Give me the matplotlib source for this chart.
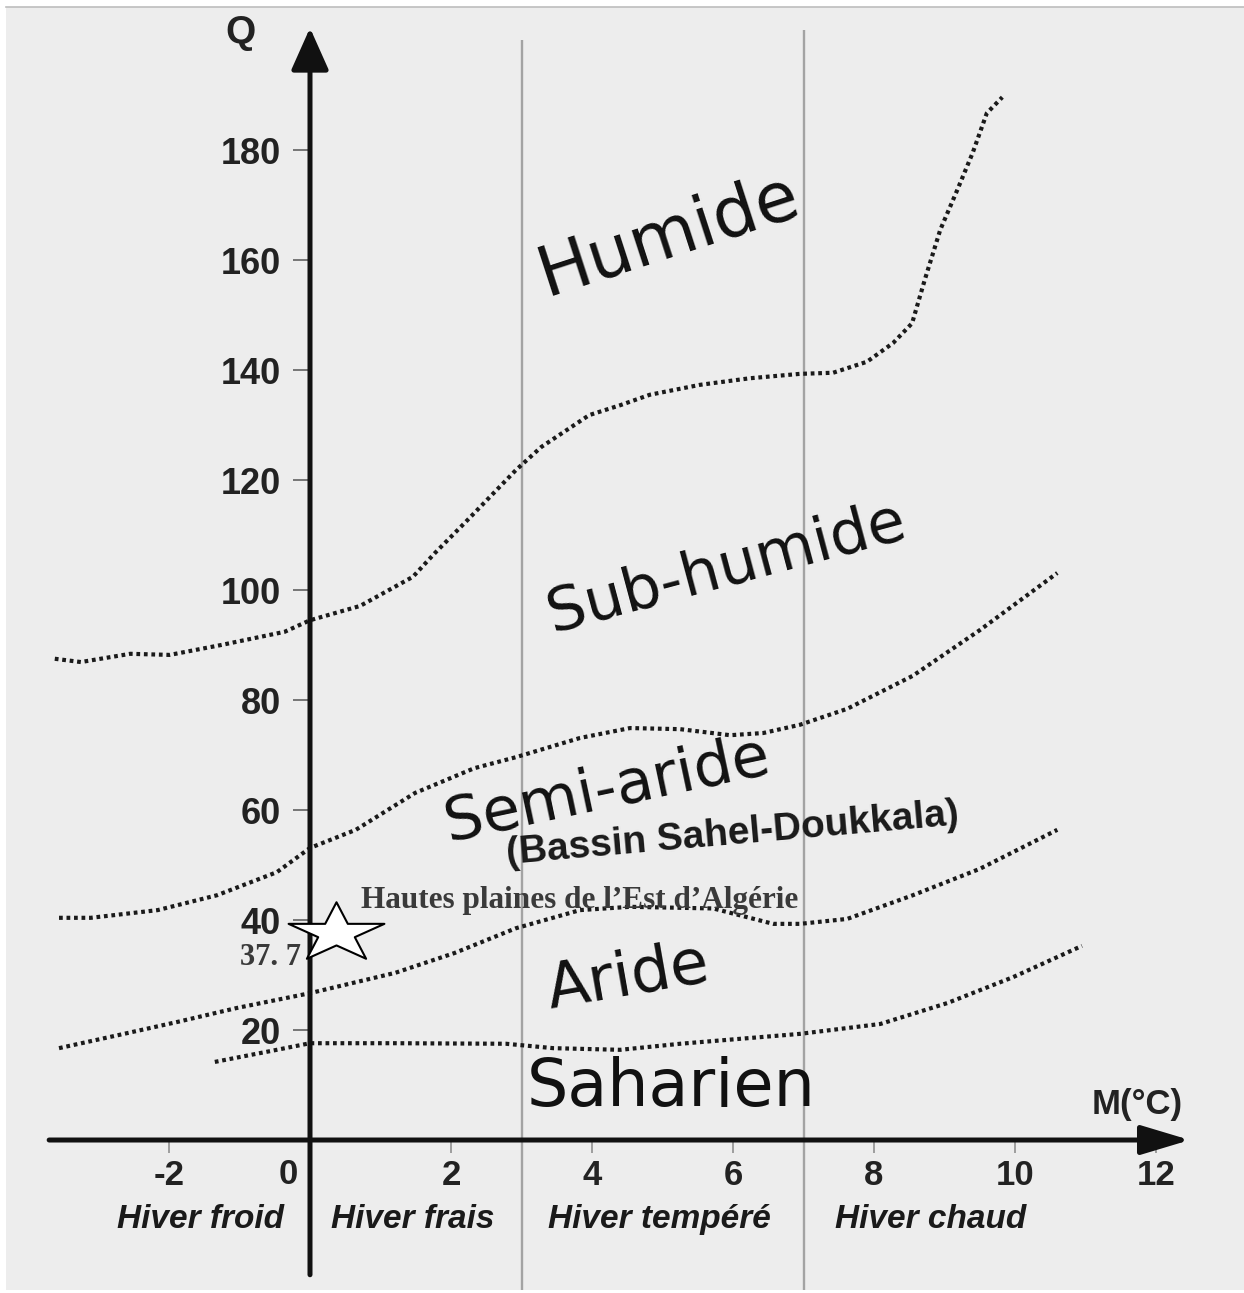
import numpy as np
import matplotlib
matplotlib.use('Agg')
import matplotlib.pyplot as plt
from matplotlib.path import Path

# Emberger climagram: Q (pluviothermic quotient) vs M (min temp of coldest month)

X_TICKS = [-2, 0, 2, 4, 6, 8, 10, 12]
Y_TICKS = [20, 40, 60, 80, 100, 120, 140, 160, 180]
WINTER_BOUNDS = [3, 7]
WINTER_LABELS = ["Hiver froid", "Hiver frais", "Hiver tempéré", "Hiver chaud"]
ZONE_LABELS = ["Humide", "Sub-humide", "Semi-aride", "Aride", "Saharien"]
SUBZONE_LABEL = "(Bassin Sahel-Doukkala)"

# zone boundaries (M in °C, Q)
HUMIDE_M = [-3.62, -3.25, -2.55, -1.99, -1.26, -0.36, 0.0, 0.71, 1.46, 1.77,
            2.21, 2.92, 3.28, 3.96, 4.40, 4.82, 5.53, 6.24, 6.95, 7.42,
            7.90, 8.27, 8.54, 8.72, 8.94, 9.18, 9.40, 9.60, 9.82]
HUMIDE_Q = [87.5, 86.9, 88.4, 88.2, 90.0, 92.4, 94.5, 97.1, 102.4, 106.7,
            112.4, 121.8, 126.0, 131.8, 133.6, 135.5, 137.3, 138.5, 139.3, 139.5,
            141.5, 144.9, 148.5, 156.4, 165.5, 172.7, 179.5, 186.7, 189.6]

SUBHUM_M = [-3.56, -3.11, -2.16, -1.32, -0.47, 0.0, 0.65, 1.49, 2.33, 2.92,
            3.83, 4.54, 5.25, 5.96, 6.43, 6.95, 7.62, 8.55, 9.50, 10.60]
SUBHUM_Q = [40.4, 40.4, 41.8, 44.5, 48.7, 53.1, 56.4, 63.1, 67.6, 69.6,
            73.1, 74.9, 74.7, 73.6, 74.0, 75.5, 78.4, 84.4, 92.7, 103.1]

SEMI_M = [-3.56, -2.71, -1.87, -1.04, 0.0, 1.21, 2.05, 2.92, 3.83, 4.54,
          5.72, 6.57, 6.95, 7.62, 8.55, 9.50, 10.60]
SEMI_Q = [16.7, 19.1, 21.5, 24.0, 26.7, 30.4, 34.0, 38.5, 41.8, 42.4,
          42.1, 39.3, 39.3, 40.2, 44.5, 49.3, 56.4]

ARIDE_M = [-1.35, -0.47, 0.0, 1.21, 2.78, 3.45, 4.40, 5.25, 6.95, 8.09,
           9.04, 9.97, 10.95]
ARIDE_Q = [14.2, 16.4, 17.6, 17.6, 17.5, 16.7, 16.4, 17.5, 19.3, 21.1,
           24.9, 29.6, 35.3]

STATION_NAME = "Hautes plaines de l’Est d’Algérie"
STATION_LABEL = "37. 7"
STATION_M = 0.37
STATION_Q = 37.7

BG = '#ededed'
INK = '#1a1a1a'
SANS = 'Liberation Sans'
SERIF = 'Liberation Serif'

plt.rcParams['font.family'] = SANS

fig = plt.figure(figsize=(12.44, 12.93), dpi=100)
fig.patch.set_facecolor('white')
ax = fig.add_axes([6 / 1244, 3 / 1293, 1238 / 1244, 1283 / 1293])
ax.set_facecolor(BG)
ax.set_xlim(-4.312, 13.248)
ax.set_ylim(-27.27, 206.0)

for side in ['left', 'right', 'bottom']:
    ax.spines[side].set_visible(False)
ax.spines['top'].set_color('#bdbdbd')
ax.spines['top'].set_linewidth(1.2)
ax.spines['left'].set_position(('data', 0))
ax.spines['bottom'].set_position(('data', 0))

# ticks on the zero lines
ax.set_xticks(X_TICKS, labels=[('' if t == 0 else str(t)) for t in X_TICKS],
              fontweight='bold', fontsize=25, color='#222222')
ax.set_yticks(Y_TICKS, labels=[str(t) for t in Y_TICKS],
              fontweight='bold', fontsize=26, color='#222222')
ax.tick_params(axis='x', direction='out', length=9, width=1.1,
               color='#888888', pad=5)
ax.tick_params(axis='y', direction='out', length=12, width=1.1,
               color='#555555', pad=9)
ax.annotate('0', xy=(0, 0), xytext=(-9, -13), textcoords='offset points',
            ha='right', va='top', fontsize=25, fontweight='bold',
            color='#222222')

# winter type separators
ax.vlines(WINTER_BOUNDS, -27.3, [200.0, 201.8], colors='#a3a3a3', lw=1.7,
          zorder=1)

# axes with arrow heads
ax.annotate('', xy=(12.48, 0), xytext=(-3.70, 0), zorder=5,
            arrowprops=dict(arrowstyle='-|>,head_length=1.5,head_width=0.45',
                            mutation_scale=20, lw=3.6, color='#111111',
                            shrinkA=0, shrinkB=0))
ax.annotate('', xy=(0, 202.2), xytext=(0, -24.5), zorder=5,
            arrowprops=dict(arrowstyle='-|>,head_length=1.3,head_width=0.58',
                            mutation_scale=20, lw=3.6, color='#111111',
                            shrinkA=0, shrinkB=0))

ax.text(-0.99, 201.3, 'Q', ha='center', va='center', fontsize=28,
        fontweight='bold', color='#222222')
ax.text(11.74, 6.4, 'M(°C)', ha='center', va='center', fontsize=25,
        fontweight='bold', color='#222222')

# boundary curves
for m, q in [(HUMIDE_M, HUMIDE_Q), (SUBHUM_M, SUBHUM_Q),
             (SEMI_M, SEMI_Q), (ARIDE_M, ARIDE_Q)]:
    ax.plot(m, q, color=INK, lw=3.0, linestyle=(0, (0.9, 0.9)),
            dash_capstyle='butt', zorder=3)

# zone names
zone_pos = [(5.08, 164.5, 18, 50), (5.91, 104.0, 15, 44),
            (4.22, 63.6, 12, 44), (4.51, 29.5, 10, 45), (5.13, 9.5, 0, 47)]
for name, (m, q, rot, size) in zip(ZONE_LABELS, zone_pos):
    ax.text(m, q, name, ha='center', va='center', rotation=rot,
            rotation_mode='anchor', fontsize=size, family='DejaVu Sans',
            color='#111111', zorder=4)
ax.text(6.0, 55.6, SUBZONE_LABEL, ha='center', va='center', rotation=5,
        rotation_mode='anchor', fontsize=28, fontweight='bold',
        color='#1a1a1a', zorder=4)

# winter type labels under the axis
for name, m in zip(WINTER_LABELS, [-1.56, 1.46, 4.96, 8.81]):
    ax.text(m, -14.5, name, ha='center', va='center', fontsize=24,
            fontweight='bold', fontstyle='italic', color='#1a1a1a')

# station star (slightly flattened, as in the scan)
ang = np.deg2rad(90 + 36 * np.arange(10))
rad = np.where(np.arange(10) % 2 == 0, 1.0, 0.382)
star = np.column_stack([rad * np.cos(ang), 0.62 * rad * np.sin(ang)])
star_path = Path(np.vstack([star, star[:1]]), closed=True)
ax.plot([STATION_M], [STATION_Q], marker=star_path, markersize=69,
        markerfacecolor='white', markeredgecolor='black',
        markeredgewidth=1.5, linestyle='none', zorder=7)

ax.text(3.82, 43.6, STATION_NAME, ha='center', va='center', fontsize=22.5,
        fontweight='bold', family=SERIF, color='#3a3a3a', zorder=6)
ax.text(-0.13, 33.2, STATION_LABEL, ha='right', va='center', fontsize=22,
        fontweight='bold', family=SERIF, color='#3a3a3a', zorder=6)

fig.savefig('out.png', dpi=100, facecolor=fig.get_facecolor())
